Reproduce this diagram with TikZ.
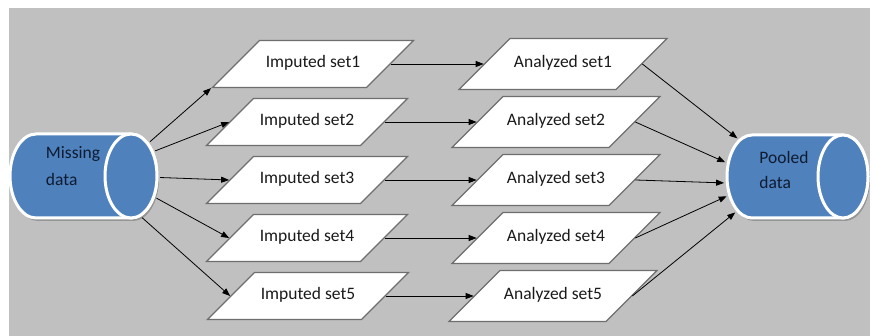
\documentclass[tikz,border=0pt]{standalone}
\usepackage{fontspec}
\setmainfont{Carlito}
\usetikzlibrary{shapes.geometric,arrows.meta}
\definecolor{bg}{HTML}{C0C0C0}
\definecolor{canblue}{HTML}{4F81BD}
\definecolor{edge}{HTML}{6E6E6E}
\definecolor{ink}{HTML}{1A1A1A}
\definecolor{canink}{HTML}{0E1B30}
\begin{document}
\begin{tikzpicture}[x=1pt,y=1pt,
  setbox/.style={trapezium, trapezium left angle=45, trapezium right angle=135,
    trapezium stretches body=true, draw=edge, line width=1.2pt, fill=white,
    text=ink, font=\fontsize{17.5}{21}\selectfont,
    text height=12pt, text depth=4pt, inner xsep=0pt},
  impbox/.style={setbox, inner ysep=15.5pt, minimum width=201},
  anabox/.style={setbox, inner ysep=17.5pt, minimum width=208},
  endcap/.style={ellipse, inner sep=0pt, minimum width=58, minimum height=90},
  canlabel/.style={align=left, text=canink, inner sep=0pt},
  canshadow/.style={fill=black, opacity=0.22},
  canbody/.style={fill=canblue, draw=white, line width=3pt},
  link/.style={draw=black, line width=0.8pt, -{Triangle[length=8pt,width=6pt]}},
]
\useasboundingbox (0,0) rectangle (872,336);
\fill[bg] (9,0) rectangle (870,328);

% cylinder "Missing data"
\fill[canshadow] (38,199) -- (133,199) arc[start angle=90,end angle=-90,x radius=26,y radius=42]
  -- (38,115) arc[start angle=270,end angle=90,x radius=26,y radius=42] -- cycle;
\path[canbody] (36,202) -- (131,202) arc[start angle=90,end angle=-90,x radius=26,y radius=42]
  -- (36,118) arc[start angle=270,end angle=90,x radius=26,y radius=42] -- cycle;
\path[canbody] (131,160) ellipse [x radius=26, y radius=42];
\node[canlabel, font=\fontsize{17.5}{27}\selectfont] (misstext) at (73,169.5) {Missing\\data};
\node[endcap] (missend) at (131,160) {};

% cylinder "Pooled data"
\fill[canshadow] (754,198) -- (845,198) arc[start angle=90,end angle=-90,x radius=25,y radius=41.5]
  -- (754,115) arc[start angle=270,end angle=90,x radius=25,y radius=41.5] -- cycle;
\path[canbody] (752,201) -- (843,201) arc[start angle=90,end angle=-90,x radius=25,y radius=41.5]
  -- (752,118) arc[start angle=270,end angle=90,x radius=25,y radius=41.5] -- cycle;
\path[canbody] (843,159.5) ellipse [x radius=25, y radius=41.5];
\node[canlabel, font=\fontsize{17.5}{25}\selectfont] (pooltext) at (784,166.5) {Pooled\\data};
\node[endcap, minimum width=56, minimum height=89] (poolend) at (752,159.5) {};

% imputed data sets
\node[impbox] (imp1) at (313,272) {Imputed set1};
\node[impbox] (imp2) at (307,214) {Imputed set2};
\node[impbox] (imp3) at (307,156) {Imputed set3};
\node[impbox] (imp4) at (307,98) {Imputed set4};
\node[impbox] (imp5) at (308,40) {Imputed set5};

% analyzed data sets
\node[anabox] (ana1) at (563,272) {Analyzed set1};
\node[anabox] (ana2) at (556,214) {Analyzed set2};
\node[anabox] (ana3) at (556,156) {Analyzed set3};
\node[anabox] (ana4) at (556,98) {Analyzed set4};
\node[anabox] (ana5) at (553,40) {Analyzed set5};

% imputation
\draw[link] (missend.61) -- (imp1.bottom left corner);
\draw[link] (missend.46) -- (imp2.left side);
\draw[link] (missend.-3) -- (imp3.left side);
\draw[link] (missend.-41) -- (imp4.left side);
\draw[link] (missend.-75) -- (imp5.left side);

% analysis
\foreach \k in {1,...,5}
  \draw[link] (imp\k.right side) -- (ana\k.left side);

% pooling
\draw[link] (ana1.right side) -- (poolend.111);
\draw[link] (ana2.right side) -- (poolend.152);
\draw[link] (ana3.right side) -- (poolend.193);
\draw[link] (ana4.right side) -- (poolend.218);
\draw[link] (ana5.right side) -- (poolend.245);
\end{tikzpicture}
\end{document}
